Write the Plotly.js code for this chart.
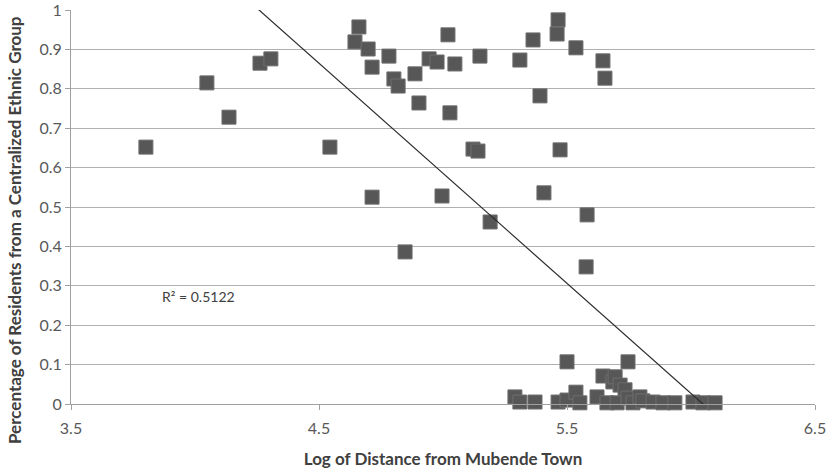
<!DOCTYPE html>
<html>
<head>
<meta charset="utf-8">
<script src="https://cdn.plot.ly/plotly-3.0.1.min.js"></script>
<style>html,body{margin:0;padding:0;background:#fff}#chart{width:829px;height:470px}</style>
</head>
<body>
<div id="chart"></div>
<script>
// Log of distance from Mubende Town (x) and share of residents from a centralized ethnic group (y)
const logDistance = [
  3.802, 4.048, 4.137, 4.262, 4.306, 4.544, 4.645, 4.661, 4.698, 4.714,
  4.714, 4.782, 4.802, 4.819, 4.847, 4.887, 4.903, 4.944, 4.976, 4.996,
  5.020, 5.028, 5.048, 5.121, 5.141, 5.149, 5.190, 5.310, 5.363, 5.391,
  5.407, 5.464, 5.460, 5.472, 5.536, 5.581, 5.577, 5.645, 5.653, 5.500,
  5.746,
  5.290, 5.310, 5.371, 5.464, 5.500, 5.536, 5.552, 5.621, 5.645, 5.661,
  5.685, 5.694, 5.714, 5.734, 5.702, 5.746, 5.766, 5.794, 5.806, 5.847,
  5.887, 5.935, 6.008, 6.048, 6.097
];
const shareCentralized = [
  0.652, 0.815, 0.728, 0.865, 0.876, 0.652, 0.919, 0.957, 0.901, 0.855,
  0.525, 0.883, 0.825, 0.807, 0.386, 0.838, 0.764, 0.876, 0.868, 0.528,
  0.937, 0.739, 0.863, 0.647, 0.642, 0.883, 0.462, 0.873, 0.924, 0.782,
  0.536, 0.975, 0.939, 0.645, 0.904, 0.480, 0.348, 0.871, 0.827, 0.107,
  0.107,
  0.018, 0.005, 0.005, 0.005, 0.010, 0.030, 0.003, 0.018, 0.071, 0.003,
  0.056, 0.069, 0.048, 0.036, 0.003, 0.015, 0.003, 0.018, 0.008, 0.005,
  0.003, 0.003, 0.005, 0.003, 0.003
];
// Linear trendline (as fitted in the source chart)
const trendSlope = -0.5587;
const trendIntercept = 3.379;
const rSquaredLabel = "R² = 0.5122";
const xTickValues = [3.5, 4.5, 5.5, 6.5];
const xTickLabels = ["3.5", "4.5", "5.5", "6.5"];
const yTickValues = [0, 0.1, 0.2, 0.3, 0.4, 0.5, 0.6, 0.7, 0.8, 0.9, 1];
const yTickLabels = ["0", "0.1", "0.2", "0.3", "0.4", "0.5", "0.6", "0.7", "0.8", "0.9", "1"];

const xMin = Math.min(...logDistance), xMax = Math.max(...logDistance);
const trendX = [xMin, xMax];
const trendY = trendX.map(x => trendIntercept + trendSlope * x);

const FONT = "Lato, 'Open Sans', 'DejaVu Sans', sans-serif";

const data = [
  {
    type: "scatter", mode: "markers",
    x: logDistance, y: shareCentralized,
    cliponaxis: false,
    marker: {symbol: "square", size: 14, color: "#575757", line: {color: "#6e6e6e", width: 1}},
    hoverinfo: "x+y", showlegend: false
  },
  {
    type: "scatter", mode: "lines",
    x: trendX, y: trendY,
    line: {color: "#2b2b2b", width: 1.2},
    hoverinfo: "skip", showlegend: false
  }
];

const layout = {
  width: 829, height: 470,
  margin: {l: 71, r: 14, t: 10, b: 66},
  paper_bgcolor: "#ffffff", plot_bgcolor: "#ffffff",
  font: {family: FONT, color: "#404040"},
  xaxis: {
    range: [3.5, 6.5], tickvals: xTickValues, ticktext: xTickLabels,
    showgrid: false, zeroline: false,
    showline: true, linecolor: "#a0a0a0", linewidth: 1,
    ticks: "outside", ticklen: 5, tickcolor: "#a0a0a0",
    ticklabelstandoff: 5, ticklabeloverflow: "allow",
    tickfont: {family: FONT, size: 16, color: "#595959"},
    title: {text: "Log of Distance from Mubende Town", font: {family: FONT, size: 17, color: "#404040", weight: "bold"}, standoff: 16}
  },
  yaxis: {
    range: [0, 1], tickvals: yTickValues, ticktext: yTickLabels,
    showgrid: true, gridcolor: "#b0b0b0", gridwidth: 1,
    zeroline: false,
    showline: true, linecolor: "#a0a0a0", linewidth: 1,
    ticks: "outside", ticklen: 5, tickcolor: "#a0a0a0",
    ticklabeloverflow: "allow",
    tickfont: {family: FONT, size: 16, color: "#595959"}
  },
  annotations: [
    {
      text: "Percentage of Residents from a Centralized Ethnic Group",
      xref: "paper", yref: "paper", x: 0, y: 0.5, xanchor: "center", yanchor: "middle",
      xshift: -57, yshift: -23, textangle: -90, showarrow: false,
      font: {family: FONT, size: 17, color: "#404040", weight: "bold"}
    },
    {
      text: rSquaredLabel, xref: "x", yref: "y", x: 3.86, y: 0.272,
      xanchor: "left", yanchor: "middle", showarrow: false,
      font: {family: FONT, size: 14, color: "#404040"}
    }
  ]
};

Plotly.newPlot("chart", data, layout, {displayModeBar: false, staticPlot: true});
</script>
</body>
</html>
